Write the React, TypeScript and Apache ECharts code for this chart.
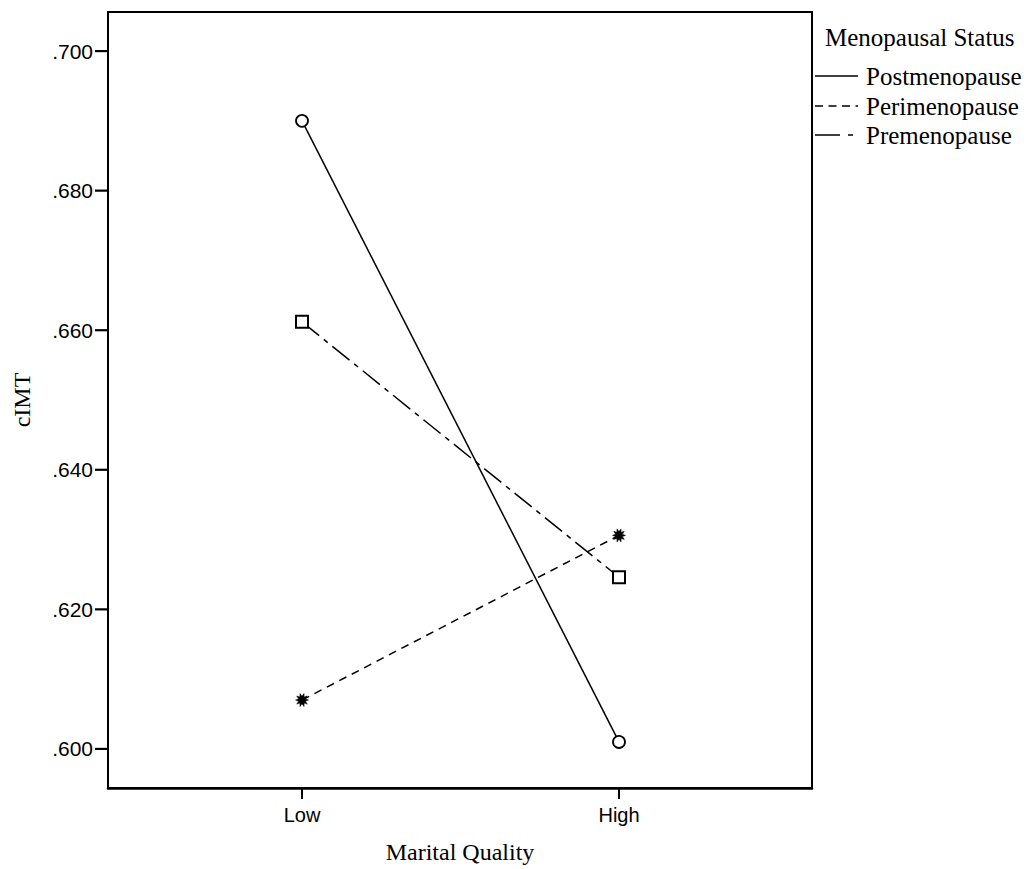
import React, { useEffect, useRef } from "react";
import * as echarts from "echarts";

const categories = ["Low", "High"];
const seriesNames = ["Postmenopause", "Perimenopause", "Premenopause"];
const postmenopause = [0.690, 0.601];
const perimenopause = [0.607, 0.6306];
const premenopause = [0.6612, 0.6246];
const yTicks = [0.6, 0.62, 0.64, 0.66, 0.68, 0.7];

const SERIF = "'Liberation Serif', 'Times New Roman', serif";
const SANS = "'Liberation Sans', Arial, sans-serif";

function starPath(): string {
  const pts: string[] = [];
  const n = 10;
  for (let i = 0; i < n * 2; i++) {
    const r = i % 2 === 0 ? 10 : 5.5;
    const a = (Math.PI * i) / n;
    const x = 10 + r * Math.cos(a);
    const y = 10 + r * Math.sin(a);
    pts.push((i === 0 ? "M" : "L") + x.toFixed(2) + " " + y.toFixed(2));
  }
  return "path://" + pts.join(" ") + " Z";
}

export default function App() {
  const ref = useRef<HTMLDivElement>(null);
  useEffect(() => {
    if (!ref.current) return;
    const chart = echarts.init(ref.current, null, { renderer: "svg" });
    const toPts = (vals: number[]) => vals.map((v, i) => [i + 1, v]);
    const lineW = 1.5;
    const legendX0 = 815;
    const legendX1 = 858;
    const legendYs = [76, 106, 135];
    const legendDashes: any[] = [null, [8, 5.5], [25, 8, 5, 100]];
    const graphics: any[] = [
      {
        type: "text",
        left: 825,
        top: 25,
        style: { text: "Menopausal Status", font: `25px ${SERIF}`, fill: "#000" },
      },
    ];
    seriesNames.forEach((name, i) => {
      graphics.push({
        type: "line",
        shape: { x1: legendX0, y1: legendYs[i], x2: legendX1, y2: legendYs[i] },
        style: { stroke: "#000", lineWidth: lineW, lineDash: legendDashes[i] },
      });
      graphics.push({
        type: "text",
        x: 866,
        y: legendYs[i],
        style: {
          text: name,
          font: `25px ${SERIF}`,
          fill: "#000",
          textVerticalAlign: "middle",
          verticalAlign: "middle",
        },
      });
    });

    chart.setOption({
      animation: false,
      backgroundColor: "#fff",
      grid: {
        left: 108,
        top: 12,
        width: 704,
        height: 776,
        show: true,
        borderColor: "#000",
        borderWidth: 2,
        backgroundColor: "transparent",
      },
      xAxis: {
        type: "value",
        min: 0.388,
        max: 2.6088,
        name: "Marital Quality",
        nameLocation: "middle",
        nameGap: 52,
        nameTextStyle: { fontFamily: SERIF, fontSize: 24, color: "#000" },
        axisLine: { show: true, lineStyle: { color: "#000", width: 2.5 } },
        axisTick: { show: false },
        axisLabel: {
          customValues: [1, 2],
          formatter: (v: number) => categories[Math.round(v) - 1] ?? "",
          fontFamily: SANS,
          fontSize: 20,
          color: "#000",
          margin: 17,
        },
        splitLine: { show: false },
      },
      yAxis: {
        type: "value",
        min: 0.5944,
        max: 0.7056,
        name: "cIMT",
        nameLocation: "middle",
        nameGap: 74,
        nameRotate: 90,
        nameTextStyle: { fontFamily: SERIF, fontSize: 24, color: "#000" },
        axisLine: { show: true, lineStyle: { color: "#000", width: 2 } },
        axisTick: { show: false },
        axisLabel: {
          customValues: yTicks,
          formatter: (v: number) => v.toFixed(3).replace(/^0/, ""),
          fontFamily: SANS,
          fontSize: 21,
          color: "#000",
          margin: 15,
        },
        splitLine: { show: false },
      },
      graphic: graphics,
      series: [
        {
          name: seriesNames[0],
          type: "line",
          data: toPts(postmenopause),
          symbol: "circle",
          symbolSize: 12,
          itemStyle: { color: "#fff", borderColor: "#000", borderWidth: 1.8 },
          lineStyle: { color: "#000", width: lineW, type: "solid" },
          z: 3,
        },
        {
          name: seriesNames[1],
          type: "line",
          data: toPts(perimenopause),
          symbol: starPath(),
          symbolSize: 13,
          itemStyle: { color: "#000", borderColor: "#000", borderWidth: 0.5 },
          lineStyle: { color: "#000", width: lineW, type: [8, 6] },
          z: 3,
        },
        {
          name: seriesNames[2],
          type: "line",
          data: toPts(premenopause),
          symbol: "rect",
          symbolSize: 12,
          itemStyle: { color: "#fff", borderColor: "#000", borderWidth: 2 },
          lineStyle: { color: "#000", width: lineW, type: [22, 6, 5, 6] },
          z: 3,
        },
      ],
    });

    // tick marks placed through the axes' own scales
    const tickGraphics: any[] = [];
    yTicks.forEach((v) => {
      const p = chart.convertToPixel({ gridIndex: 0 }, [0.388, v]) as number[];
      tickGraphics.push({
        type: "line",
        shape: { x1: p[0] - 13, y1: p[1], x2: p[0], y2: p[1] },
        style: { stroke: "#000", lineWidth: 2.2 },
      });
    });
    categories.forEach((_, i) => {
      const p = chart.convertToPixel({ gridIndex: 0 }, [i + 1, 0.5944]) as number[];
      tickGraphics.push({
        type: "line",
        shape: { x1: p[0], y1: p[1], x2: p[0], y2: p[1] + 11 },
        style: { stroke: "#000", lineWidth: 2 },
      });
    });
    chart.setOption({ graphic: graphics.concat(tickGraphics) });

    return () => chart.dispose();
  }, []);
  return (
    <div
      ref={ref}
      style={{ position: "fixed", left: 0, top: 0, width: 1030, height: 869, background: "#fff" }}
    />
  );
}
